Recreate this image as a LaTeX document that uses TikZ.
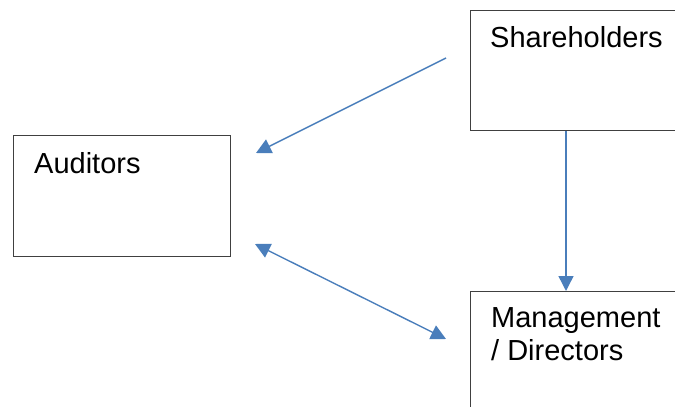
\documentclass[tikz,border=0pt]{standalone}
\usepackage{fontspec}
\setmainfont{Liberation Sans}
\usetikzlibrary{arrows.meta}
\definecolor{arrowblue}{HTML}{4A7EBB}
\definecolor{boxgray}{HTML}{404040}
\tikzset{
  box/.style={draw=boxgray, line width=1pt},
  lbl/.style={inner sep=0pt, font=\fontsize{29}{33}\selectfont, align=left},
  conn/.style={draw=arrowblue, line width=1.4pt},
  tip/.style={-{Triangle[length=15pt,width=15pt]}}
}
\begin{document}
\begin{tikzpicture}[x=1pt,y=-1pt]
\useasboundingbox (0,0) rectangle (675,407);
\clip (0,0) rectangle (675,407);
% boxes
\draw[box] (470,10) rectangle (720,130);
\draw[box] (13,135) rectangle (230,256);
\draw[box] (470,291) rectangle (720,450);
\node[lbl, anchor=base west] (sh) at (490,47) {Shareholders};
\node[lbl, anchor=base west] (au) at (34,173) {Auditors};
\node[lbl, anchor=north west] (md) at (491,307) {Management\\/ Directors};
% connector end points
\coordinate (shL) at (446,58);
\coordinate (auT) at (256,153);
\coordinate (shB) at (566,131);
\coordinate (mdT) at (566,291);
\coordinate (auB) at (255,244);
\coordinate (mdL) at (446,339);
\draw[conn, tip] (shL) -- (auT);
\draw[conn, tip] (shB) -- (mdT);
\draw[conn, {Triangle[length=15pt,width=15pt]}-{Triangle[length=15pt,width=15pt]}] (auB) -- (mdL);
\end{tikzpicture}
\end{document}
